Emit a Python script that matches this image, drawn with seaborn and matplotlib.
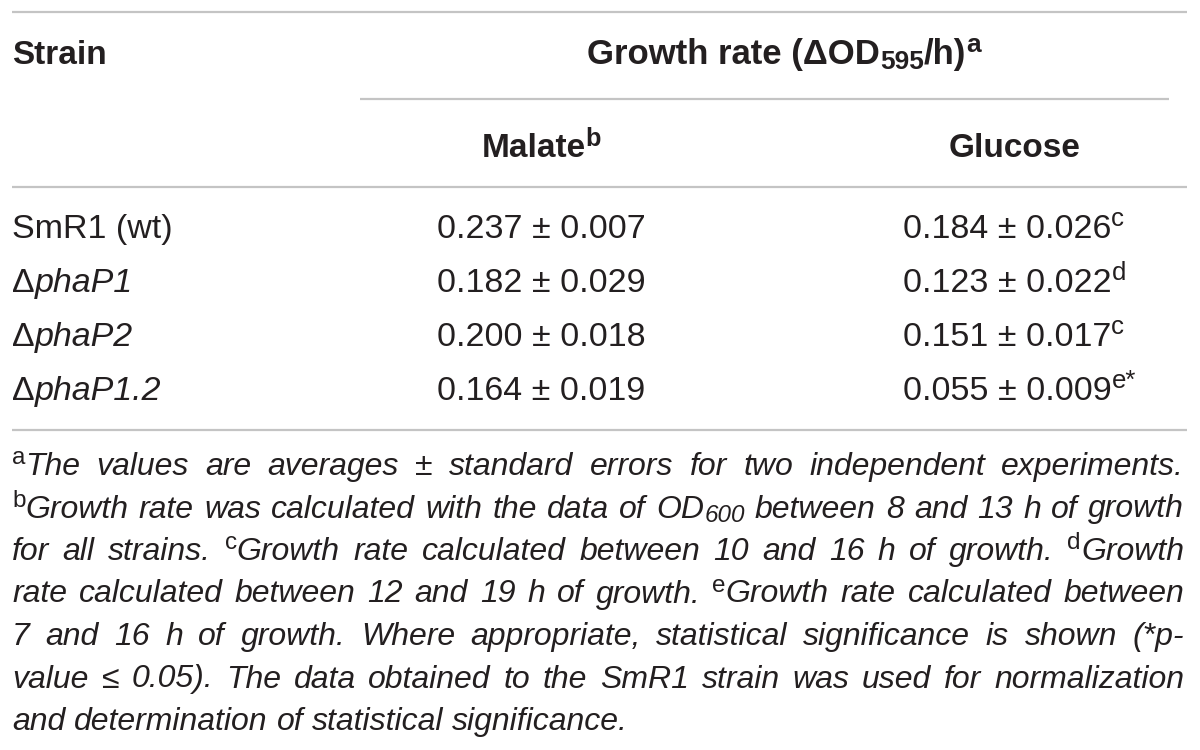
import re
import matplotlib
matplotlib.use("Agg")
import matplotlib.pyplot as plt
import seaborn as sns

# ---------------- data ----------------
strain_prefix = ["", "Δ", "Δ", "Δ"]
strain_names = ["SmR1 (wt)", "phaP1", "phaP2", "phaP1.2"]
strain_italic = [False, True, True, True]
malate_mean = [0.237, 0.182, 0.200, 0.164]
malate_se = [0.007, 0.029, 0.018, 0.019]
glucose_mean = [0.184, 0.123, 0.151, 0.055]
glucose_se = [0.026, 0.022, 0.017, 0.009]
glucose_note = ["c", "d", "c", "e*"]

header_strain = "Strain"
header_group = "Growth rate (ΔOD_{595}/h)^{a}"
header_cols = ["Malate^{b}", "Glucose"]

footnote_lines = [
    "^{a}The values are averages ± standard errors for two independent experiments.",
    "^{b}Growth rate was calculated with the data of OD_{600} between 8 and 13 h of growth",
    "for all strains. ^{c}Growth rate calculated between 10 and 16 h of growth. ^{d}Growth",
    "rate calculated between 12 and 19 h of growth. ^{e}Growth rate calculated between",
    "7 and 16 h of growth. Where appropriate, statistical significance is shown (*p-",
    "value ≤ 0.05). The data obtained to the SmR1 strain was used for normalization",
    "and determination of statistical significance.",
]

# ---------------- style ----------------
sns.set_theme(style="white")
plt.rcParams["font.family"] = ["Liberation Sans", "DejaVu Sans"]

TXT = "#231f20"
RULE = "#c4c4c4"
SCALE = 0.76

fig = plt.figure(figsize=(12, 7.5), dpi=100)
ax = fig.add_axes([0, 0, 1, 1])
ax.set_xlim(0, 1200)
ax.set_ylim(750, 0)
ax.axis("off")
renderer = fig.canvas.get_renderer()


def parse(text, style="normal", weight="normal", sup_style="normal"):
    runs = []
    for m in re.finditer(r"\^\{([^}]*)\}|_\{([^}]*)\}|([^\^_]+)", text):
        if m.group(1) is not None:
            runs.append((m.group(1), "sup", sup_style, weight))
        elif m.group(2) is not None:
            runs.append((m.group(2), "sub", style, weight))
        else:
            runs.append((m.group(3), "n", style, weight))
    return runs


def make_runs(runs, size):
    items = []
    for text, kind, style, weight in runs:
        s = size * (SCALE if kind != "n" else 1.0)
        t = ax.text(0, 0, text, fontsize=s, fontstyle=style, fontweight=weight,
                    color=TXT, va="baseline", ha="left")
        w = t.get_window_extent(renderer).width
        items.append((t, w, kind))
    return items


def place(items, x0, y, size):
    px = size * 100 / 72
    cx = x0
    for t, w, kind in items:
        dy = 0
        if kind == "sup":
            dy = -0.34 * px
        elif kind == "sub":
            dy = 0.15 * px
        t.set_position((cx, y + dy))
        cx += w
    return cx


def draw(text, x, y, size, ha="left", **kw):
    items = make_runs(parse(text, **kw), size)
    total = sum(w for _, w, _ in items)
    if ha == "center":
        x = x - total / 2
    place(items, x, y, size)


def text_width(s, size, style):
    t = ax.text(0, 0, s, fontsize=size, fontstyle=style)
    w = t.get_window_extent(renderer).width
    t.remove()
    return w


# ---------------- rules ----------------
ax.hlines([12, 187, 430], 12, 1187, color=RULE, lw=1.6)
ax.hlines(99, 360, 1169, color=RULE, lw=1.6)

# ---------------- header ----------------
HS = 24
draw(header_strain, 12, 64, HS, weight="bold")
draw(header_group, 784, 64, 25, ha="center", weight="bold")
draw(header_cols[0], 541, 157, HS, ha="center", weight="bold")
draw(header_cols[1], 1015, 157, HS, ha="center", weight="bold")

# ---------------- body ----------------
BS = 24.5
row_y0, row_dy = 238, 54
for i in range(len(strain_names)):
    y = row_y0 + i * row_dy
    runs = []
    if strain_prefix[i]:
        runs.append((strain_prefix[i], "n", "normal", "normal"))
    runs.append((strain_names[i], "n", "italic" if strain_italic[i] else "normal", "normal"))
    place(make_runs(runs, BS), 12, y, BS)
    draw(f"{malate_mean[i]:.3f} ± {malate_se[i]:.3f}", 541, y, BS, ha="center")
    draw(f"{glucose_mean[i]:.3f} ± {glucose_se[i]:.3f}^{{{glucose_note[i]}}}", 903, y, BS)

# ---------------- footnotes ----------------
FS = 23
fx0, fx1 = 12, 1184
fy0, fdy = 475, 42.5
space_w = text_width("a a", FS, "italic") - text_width("aa", FS, "italic")
for li, line in enumerate(footnote_lines):
    y = fy0 + li * fdy
    words = [make_runs(parse(w, style="italic"), FS) for w in line.split(" ")]
    widths = [sum(w for _, w, _ in wd) for wd in words]
    if li < len(footnote_lines) - 1 and len(words) > 1:
        gap = (fx1 - fx0 - sum(widths)) / (len(words) - 1)
    else:
        gap = space_w
    cx = fx0
    for wd, w in zip(words, widths):
        place(wd, cx, y, FS)
        cx += w + gap

fig.savefig("out.png", dpi=100, facecolor="white")
